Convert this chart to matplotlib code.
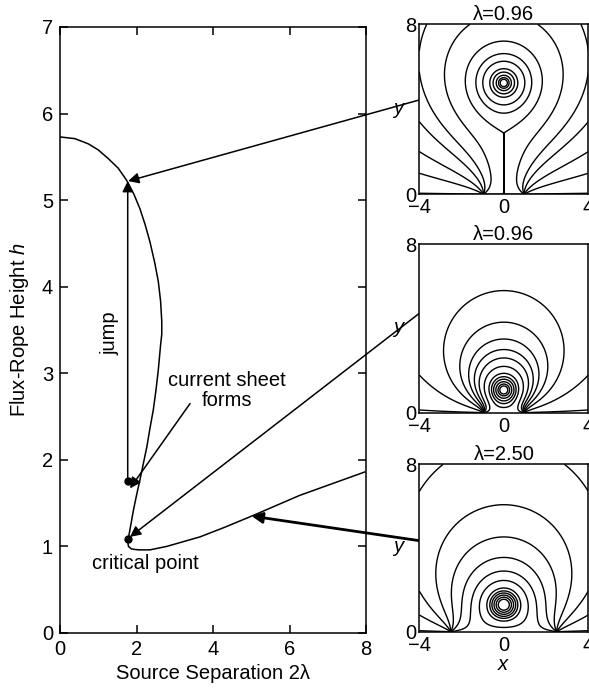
import numpy as np
import matplotlib.pyplot as plt

plt.rcParams['font.family'] = ['Liberation Sans', 'DejaVu Sans']
plt.rcParams['mathtext.fontset'] = 'custom'
plt.rcParams['mathtext.it'] = 'Liberation Sans:italic'
plt.rcParams['mathtext.rm'] = 'Liberation Sans'

# equilibrium curve h(2*lambda)
sep = [0, 0.39, 0.74, 1.0, 1.26, 1.52, 1.74, 1.93, 2.09, 2.23, 2.35, 2.47, 2.57,
       2.63, 2.66, 2.66, 2.63, 2.57, 2.51, 2.44, 2.35, 2.27, 2.18, 2.09, 2.0,
       1.92, 1.86, 1.81, 1.77, 1.79, 1.87, 2.05, 2.35, 2.79, 3.66, 4.3, 5.01,
       6.27, 7.97]
height = [5.73, 5.71, 5.65, 5.58, 5.48, 5.37, 5.23, 5.07, 4.90, 4.71, 4.52, 4.29,
          4.06, 3.83, 3.60, 3.45, 3.33, 3.04, 2.81, 2.58, 2.36, 2.15, 1.96, 1.77,
          1.59, 1.42, 1.27, 1.15, 1.05, 1.0, 0.97, 0.96, 0.96, 1.0, 1.11, 1.22,
          1.35, 1.59, 1.86]

# marked points
jump_x = 1.77
jump_from = 1.75
jump_to = 5.22
crit_h = 1.085

# field-line panels: lambda, flux rope height, current sheet top
panel_lam = [0.96, 0.96, 2.50]
panel_h = [5.24, 1.08, 1.29]
panel_sheet = [2.90, 0.0, 0.0]
# field lines drawn through these points (x, y) in each panel
panel_lines = [
    [(-4, 0.05), (-4, 0.99), (-4, 2.01), (-4, 3.42), (-3.65, 8), (-1.60, 8),
     (0, 6.62), (0, 6.26), (0, 5.91), (0, 5.75), (0, 5.60), (0, 5.49), (0, 5.41)],
    [(-4, 0.13), (-4, 1.79), (0, 5.8), (0, 4.3), (0, 3.5), (0, 3.0), (0, 2.6),
     (0, 2.2), (0, 1.87), (0, 1.71), (0, 1.59), (0, 1.47), (0, 1.36), (0, 1.27)],
    [(-4, 0.05), (-4, 0.80), (-4, 6.7), (0, 6.07), (0, 4.53), (0, 3.55),
     (0, 2.90), (0, 2.45), (0, 2.09), (0, 1.95), (0, 1.85), (0, 1.75), (0, 1.65),
     (0, 1.55)],
]
# where each panel's arrow points on the curve, and where it leaves the panel
arrow_tip = [(1.78, 5.22), (1.83, 1.11), (5.01, 1.35)]
arrow_tail = [0.555, 0.59, 0.544]


def flux(x, y, lam, h, p):
    z = x + 1j * np.asarray(y, dtype=float)
    with np.errstate(all='ignore'):
        w = z * np.sqrt(1 + p**2 / z**2)
    L = np.sqrt(lam**2 + p**2)
    H = np.sqrt(h**2 - p**2)
    if p > 0:
        cur = H / L
    else:
        cur = 4 * lam * h / (lam**2 + h**2)
    a = np.angle(w - L) - np.angle(w + L)
    a = a + cur * np.log(np.abs(w + 1j * H) / np.abs(w - 1j * H))
    return a


fig = plt.figure(figsize=(5.89, 6.92), dpi=100)
ax = fig.add_axes([0.1019, 0.0853, 0.5195, 0.8757])
ax.plot(sep, height, color='black', lw=1.1)
ax.set_xlim(0, 8)
ax.set_ylim(0, 7)
ax.set_xticks([0, 2, 4, 6, 8])
ax.set_yticks(range(8))
ax.tick_params(direction='in', top=True, right=True, length=6, width=1.1,
               labelsize=14.5, pad=5)
for s in ax.spines.values():
    s.set_linewidth(1.1)
ax.set_xlabel('Source Separation 2λ', fontsize=14.5, labelpad=4)
ax.set_ylabel('Flux-Rope Height $h$', fontsize=14.5, labelpad=8)

ax.plot([jump_x, jump_x], [jump_from, crit_h], 'o', color='black', ms=5)
ax.annotate('', xy=(jump_x, jump_to), xytext=(jump_x, jump_from),
            arrowprops=dict(arrowstyle='-|>', color='black', lw=1.1,
                            mutation_scale=16, shrinkA=0, shrinkB=0))
ax.text(1.31, 3.46, 'jump', rotation=90, ha='center', va='center', fontsize=14.5)
ax.text(4.36, 2.80, 'current sheet\nforms', ha='center', va='center',
        fontsize=14.5, linespacing=1.05)
ax.annotate('', xy=(1.83, 1.67), xytext=(3.40, 2.65),
            arrowprops=dict(arrowstyle='-|>', color='black', lw=1.1,
                            mutation_scale=16, shrinkA=0, shrinkB=0))
ax.text(2.22, 0.80, 'critical point', ha='center', va='center', fontsize=14.5)

boxes = [[0.7119, 0.7192, 0.2869, 0.2457],
         [0.7119, 0.4036, 0.2869, 0.2434],
         [0.7119, 0.0871, 0.2869, 0.2419]]

xs = np.linspace(-4, 4, 801)
ys = np.linspace(1e-4, 8, 801)
X, Y = np.meshgrid(xs, ys)

for i in range(3):
    axp = fig.add_axes(boxes[i])
    lam, h, p = panel_lam[i], panel_h[i], panel_sheet[i]
    A = flux(X, Y, lam, h, p)
    levels = [float(flux(px, max(py, 1e-4), lam, h, p)) for px, py in panel_lines[i]]
    if p > 0:
        levels.append(np.pi - 2e-3)
    axp.contour(X, Y, A, levels=sorted(set(levels)), colors='black', linewidths=1.0)
    axp.set_xlim(-4, 4)
    axp.set_ylim(0, 8)
    axp.set_xticks([-4, 0, 4])
    axp.set_xticklabels(['\u22124', '0', '4'])
    axp.set_yticks([0, 8])
    axp.tick_params(length=0, labelsize=14.5, pad=2)
    axp.tick_params(axis='x', pad=3)
    for s in axp.spines.values():
        s.set_linewidth(1.1)
    axp.set_title('λ=%.2f' % lam, fontsize=14.5, pad=3)
    axp.set_ylabel('$y$', fontsize=14.5, rotation=0, labelpad=8)
    axp.yaxis.set_label_coords(-0.12, 0.44)
    if i == 2:
        axp.set_xlabel('$x$', fontsize=14.5, labelpad=0)
    ax.annotate('', xy=arrow_tip[i], xycoords='data',
                xytext=(0, arrow_tail[i]), textcoords=axp.transAxes,
                arrowprops=dict(arrowstyle='-|>', color='black',
                                lw=2.0 if i == 2 else 1.1,
                                mutation_scale=16, shrinkA=0, shrinkB=0))

fig.savefig('out.png', dpi=100)
